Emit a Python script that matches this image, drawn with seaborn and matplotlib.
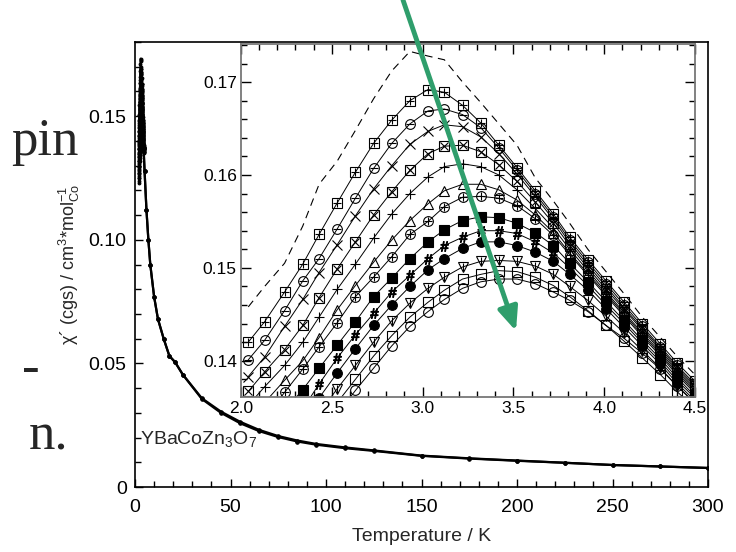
import matplotlib
matplotlib.use("Agg")
import matplotlib.pyplot as plt
import seaborn as sns
from matplotlib.ticker import MultipleLocator, FixedLocator, FuncFormatter, FormatStrFormatter

# ---------------- data ----------------
inset_T = [2.04, 2.13, 2.24, 2.34, 2.43, 2.53, 2.63, 2.73, 2.83, 2.93, 3.03, 3.12, 3.22,
           3.32, 3.42, 3.52, 3.62, 3.72, 3.81, 3.91, 4.01, 4.11, 4.21, 4.31, 4.40, 4.50]

chi_dashed = [.1458, .1480, .1505, .1545, .1590, .1615, .1648, .1682, .1712, .1733, .1728, .1724, .1700,
              .1678, .1655, .1632, .1597, .1572, .1548, .1520, .1496, .1472, .1447, .1425, .1405, .1385]
chi_sqplus = [.1420, .1442, .1474, .1504, .1536, .1570, .1603, .1634, .1659, .1680, .1692, .1689, .1675,
              .1656, .1632, .1608, .1583, .1558, .1533, .1509, .1486, .1463, .1440, .1418, .1398, .1378]
chi_cirbar = [.1401, .1422, .1454, .1486, .1510, .1542, .1575, .1607, .1634, .1655, .1669, .1671, .1665,
              .1651, .1629, .1605, .1580, .1555, .1530, .1506, .1483, .1460, .1437, .1415, .1395, .1375]
chi_cross = [.1383, .1404, .1437, .1466, .1495, .1525, .1556, .1585, .1610, .1633, .1647, .1654, .1652,
             .1641, .1623, .1601, .1577, .1552, .1527, .1503, .1480, .1457, .1435, .1413, .1393, .1373]
chi_sqx = [.1367, .1388, .1412, .1438, .1468, .1499, .1528, .1557, .1582, .1605, .1623, .1631, .1632,
           .1625, .1611, .1593, .1571, .1548, .1524, .1500, .1477, .1455, .1433, .1411, .1391, .1371]
chi_plus = [.1352, .1372, .1395, .1420, .1447, .1477, .1504, .1532, .1558, .1580, .1598, .1609, .1612,
            .1609, .1600, .1584, .1564, .1543, .1520, .1497, .1474, .1452, .1430, .1409, .1389, .1369]
chi_tri = [.1335, .1355, .1379, .1400, .1425, .1455, .1481, .1506, .1530, .1551, .1569, .1583, .1590,
           .1590, .1584, .1573, .1557, .1538, .1516, .1494, .1472, .1450, .1428, .1407, .1387, .1367]
chi_cirplus = [.1318, .1338, .1366, .1391, .1415, .1441, .1469, .1490, .1512, .1536, .1550, .1566, .1576,
               .1577, .1575, .1567, .1553, .1535, .1514, .1492, .1470, .1448, .1426, .1405, .1385, .1365]
chi_fsq = [.1300, .1320, .1346, .1369, .1392, .1417, .1442, .1469, .1489, .1510, .1528, .1541, .1551,
           .1555, .1554, .1548, .1538, .1524, .1505, .1485, .1464, .1443, .1422, .1402, .1382, .1362]
chi_hash = [.1280, .1300, .1325, .1348, .1375, .1403, .1428, .1451, .1474, .1492, .1510, .1524, .1533,
            .1540, .1540, .1537, .1528, .1516, .1500, .1481, .1460, .1440, .1419, .1399, .1379, .1360]
chi_fcir = [.1265, .1285, .1310, .1333, .1360, .1387, .1413, .1438, .1460, .1480, .1498, .1510, .1521,
            .1528, .1528, .1524, .1517, .1507, .1493, .1476, .1456, .1436, .1416, .1396, .1376, .1357]
chi_dtri = [.1250, .1270, .1295, .1318, .1343, .1370, .1395, .1420, .1443, .1462, .1478, .1490, .1501,
            .1507, .1508, .1507, .1502, .1493, .1480, .1465, .1448, .1430, .1411, .1392, .1373, .1354]
chi_osq = [.1238, .1258, .1282, .1305, .1330, .1355, .1380, .1405, .1427, .1447, .1463, .1476, .1488,
           .1493, .1497, .1496, .1490, .1481, .1469, .1454, .1438, .1421, .1403, .1385, .1367, .1349]
chi_ocir = [.1228, .1248, .1272, .1295, .1318, .1343, .1368, .1392, .1416, .1437, .1453, .1466, .1478,
            .1485, .1488, .1488, .1483, .1474, .1465, .1453, .1438, .1424, .1408, .1391, .1373, .1355]

main_T = [4.5, 5, 6, 7, 8, 10, 12, 15, 18, 21, 25, 35, 45, 55, 65, 75, 85, 95, 110, 125, 150,
          175, 200, 225, 250, 275, 300]
main_chi_a = [.137, .128, .112, .100, .090, .077, .068, .060, .053, .0505, .0455, .0359, .0305, .0264,
              .0231, .0206, .0188, .0174, .0160, .0148, .0127, .0116, .0107, .0098, .0089, .0083, .0077]
main_chi_b = [.137, .128, .112, .100, .090, .077, .068, .060, .053, .0505, .0455, .0356, .0300, .0258,
              .0226, .0202, .0184, .0171, .0157, .0146, .0126, .0115, .0106, .0098, .0089, .0083, .0077]

main_xticks = [0, 50, 100, 150, 200, 250, 300]
main_yticks = [0, 0.05, 0.10, 0.15]
inset_xticks = [2.0, 2.5, 3.0, 3.5, 4.0, 4.5]
inset_yticks = [0.14, 0.15, 0.16, 0.17]

# ---------------- style ----------------
sns.set_style("ticks")
plt.rcParams["font.family"] = ["Liberation Sans", "DejaVu Sans"]
plt.rcParams["mathtext.default"] = "regular"

W, H = 736, 552
fig = plt.figure(figsize=(W / 100, H / 100), dpi=100)

# background layer for slide text fragments
bg = fig.add_axes([0, 0, 1, 1])
bg.set_xlim(0, W)
bg.set_ylim(H, 0)
bg.axis("off")
serif = ["Liberation Serif", "DejaVu Serif"]
bg.text(79, 155, "pin", fontsize=38, family=serif, ha="right", va="baseline")
bg.text(40, 383, "-", fontsize=38, family=serif, ha="right", va="baseline")
bg.text(68, 450, "n.", fontsize=38, family=serif, ha="right", va="baseline")
bg.text(86, 580, "n", fontsize=38, family=serif, ha="right", va="baseline")

# main axes
ax = fig.add_axes([135 / W, 65 / H, 573 / W, 445 / H])
ax.patch.set_alpha(0)
for yv in (main_chi_b, main_chi_a):
    sns.lineplot(x=main_T, y=yv, ax=ax, color="k", lw=1.6, marker="o", ms=2.5,
                 mec="k", mfc="k", sort=False, estimator=None)

series = [
    (chi_dashed, dict(marker=None), None),
    (chi_sqplus, dict(marker="s", mfc="none"), "+"),
    (chi_cirbar, dict(marker="o", mfc="none"), "_"),
    (chi_cross, dict(marker="x"), None),
    (chi_sqx, dict(marker="s", mfc="none"), "x"),
    (chi_plus, dict(marker="+"), None),
    (chi_tri, dict(marker="^", mfc="none"), None),
    (chi_cirplus, dict(marker="o", mfc="none"), "+"),
    (chi_fsq, dict(marker="s", mfc="k"), None),
    (chi_hash, dict(marker=r"$\#$"), None),
    (chi_fcir, dict(marker="o", mfc="k"), None),
    (chi_dtri, dict(marker="v", mfc="none"), "|"),
    (chi_osq, dict(marker="s", mfc="none"), None),
    (chi_ocir, dict(marker="o", mfc="none"), None),
]

# low-temperature data also appear in the main panel (the spike)
for vals, st, extra in series:
    sns.lineplot(x=inset_T, y=vals, ax=ax, color="k", lw=1.4, marker="o", ms=2,
                 mec="k", mfc="k", sort=False, estimator=None)

ax.set_xlim(0, 300)
ax.set_ylim(0, 0.18)
ax.xaxis.set_major_locator(FixedLocator(main_xticks))
ax.xaxis.set_minor_locator(MultipleLocator(10))
ax.yaxis.set_major_locator(FixedLocator(main_yticks))
ax.yaxis.set_minor_locator(MultipleLocator(0.01))
ax.yaxis.set_major_formatter(FuncFormatter(lambda v, p: "0" if abs(v) < 1e-9 else f"{v:.2f}"))
ax.tick_params(which="both", direction="in", top=False, right=False, width=1, colors="k",
               labelsize=14)
ax.tick_params(which="major", length=6, pad=6)
ax.tick_params(axis="x", which="major", pad=9)
ax.tick_params(which="minor", length=4)
for s in ax.spines.values():
    s.set_color("k")
    s.set_linewidth(1.2)
ax.set_xlabel("Temperature / K", fontsize=14, labelpad=8)
ax.set_ylabel(r"χ´ (cgs) / cm$^{3}$*mol$^{-1}_{Co}$", fontsize=13, labelpad=5)
ax.text(2.8, 0.0195, r"YBaCoZn$_3$O$_7$", fontsize=14, va="center", ha="left")

# inset axes
axi = fig.add_axes([241 / W, 155 / H, 454 / W, 353 / H])
axi.set_facecolor("white")
for vals, st, extra in series:
    if st["marker"] is None:
        sns.lineplot(x=inset_T, y=vals, ax=axi, color="k", lw=0.8,
                     sort=False, estimator=None)
        axi.lines[-1].set_dashes((7, 5))
        continue
    kw = dict(st)
    kw.setdefault("mfc", "none")
    sns.lineplot(x=inset_T, y=vals, ax=axi, color="k", lw=0.7, ms=7, mec="k", mew=0.8,
                 sort=False, estimator=None, **kw)
    if extra is not None:
        sns.lineplot(x=inset_T, y=vals, ax=axi, color="k", lw=0, marker=extra, ms=6,
                     mec="k", mew=0.8, sort=False, estimator=None)

axi.set_xlim(2.0, 4.5)
axi.set_ylim(0.1361, 0.1741)
axi.xaxis.set_major_locator(FixedLocator(inset_xticks))
axi.xaxis.set_minor_locator(MultipleLocator(0.1))
axi.yaxis.set_major_locator(FixedLocator(inset_yticks))
axi.yaxis.set_minor_locator(MultipleLocator(0.002))
axi.xaxis.set_major_formatter(FormatStrFormatter("%.1f"))
axi.yaxis.set_major_formatter(FormatStrFormatter("%.2f"))
axi.tick_params(which="both", direction="in", top=True, right=True, width=1, colors="k",
                labelsize=12.5, pad=3)
axi.tick_params(which="major", length=7)
axi.tick_params(which="minor", length=4)
for s in axi.spines.values():
    s.set_color("#777777")
    s.set_linewidth(1.3)

# top layer for the arrow
ov = fig.add_axes([0, 0, 1, 1])
ov.set_xlim(0, W)
ov.set_ylim(H, 0)
ov.axis("off")
ov.patch.set_alpha(0)
ov.annotate("", xy=(516, 331), xytext=(403, 0),
            arrowprops=dict(arrowstyle="-|>,head_length=1.4,head_width=0.6",
                            color="#2f9e6c", lw=3.5, shrinkA=0, shrinkB=0))

fig.savefig("out.png", dpi=100)
